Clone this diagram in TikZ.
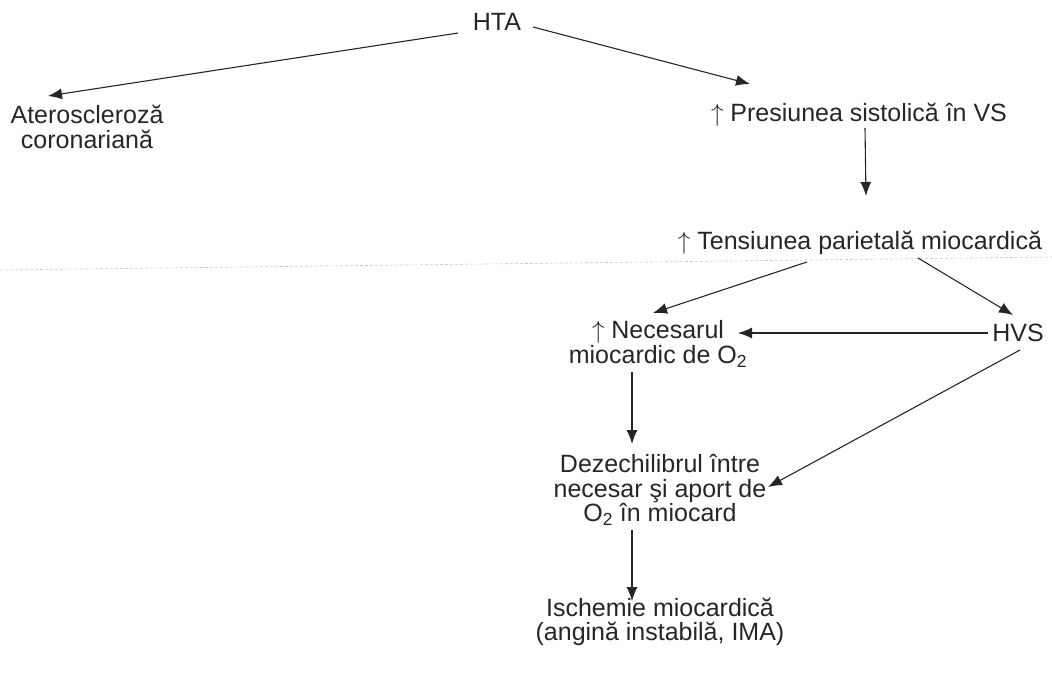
\documentclass[tikz,border=0pt]{standalone}
\usepackage{fontspec}
\setmainfont{Liberation Sans}
\usetikzlibrary{arrows.meta}

\begin{document}
\begin{tikzpicture}[x=1pt,y=-1pt,
    txt/.style={inner sep=0pt, align=center, text=black!85,
      font=\fontsize{25}{24.5}\selectfont},
    arr/.style={draw=black!85, line width=1.1pt,
      -{Latex[length=14pt,width=11pt]}}]
  \useasboundingbox (0,0) rectangle (1052,672);

  % Faint fold line
  \draw[gray!45, densely dashed, line width=0.6pt] (0,270) -- (1052,257);

  % Nodes
  \node[txt] (hta) at (497,22) {HTA};
  \node[txt] (ater) at (87,127) {Ateroscleroză\\coronariană};
  \node[txt] (pres) at (859,115) {$\uparrow$ Presiunea sistolică în VS};
  \node[txt] (tens) at (860,243) {$\uparrow$ Tensiunea parietală miocardică};
  \node[txt] (nec) at (658,344) {$\uparrow$ Necesarul\\miocardic de O\textsubscript{2}};
  \node[txt] (hvs) at (1018,333) {HVS};
  \node[txt] (dez) at (660,490) {Dezechilibrul între\\necesar şi aport de\\O\textsubscript{2} în miocard};
  \node[txt] (isch) at (660,622) {Ischemie miocardică\\(angină instabilă, IMA)};

  % Arrows
  \draw[arr] ([shift={(-39,11)}]hta.center) -- ([shift={(-39,-31)}]ater.center);
  \draw[arr] ([shift={(36,5)}]hta.center) -- ([shift={(-109,-31)}]pres.center);
  \draw[arr] ([shift={(6,13)}]pres.center) -- ([shift={(6,-47)}]tens.center);
  \draw[arr] ([shift={(-53,19)}]tens.center) -- ([shift={(-5,-31)}]nec.center);
  \draw[arr] ([shift={(58,15)}]tens.center) -- ([shift={(-5,-18)}]hvs.center);
  \draw[arr] ([shift={(-30,0)}]hvs.center) -- ([shift={(80,-11)}]nec.center);
  \draw[arr] ([shift={(-26,28)}]nec.center) -- ([shift={(-28,-46)}]dez.center);
  \draw[arr] ([shift={(2,17)}]hvs.center) -- ([shift={(108,-3)}]dez.center);
  \draw[arr] ([shift={(-28,40)}]dez.center) -- ([shift={(-28,-21)}]isch.center);
\end{tikzpicture}
\end{document}
